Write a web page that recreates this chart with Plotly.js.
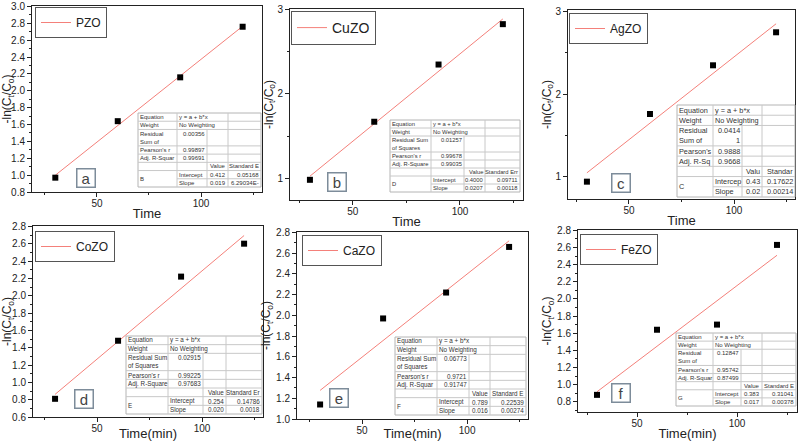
<!DOCTYPE html>
<html>
<head>
<meta charset="utf-8">
<script src="https://cdn.plot.ly/plotly-3.0.1.min.js"></script>
<style>
html, body { margin: 0; padding: 0; background: #fff; }
#chart { width: 800px; height: 441px; }
</style>
</head>
<body>
<div id="chart"></div>
<script>
// measured points, -ln(Ct/Co) against time
var times = [30, 60, 90, 120];
var pzoValues = [0.97, 1.64, 2.16, 2.76];
var cuzoValues = [0.98, 1.67, 2.35, 2.83];
var agzoValues = [0.94, 1.76, 2.35, 2.75];
var cozoValues = [0.81, 1.48, 2.22, 2.60];
var cazoValues = [1.14, 1.97, 2.22, 2.66];
var fezoValues = [0.88, 1.64, 1.70, 2.63];

var sampleNames = ['PZO', 'CuZO', 'AgZO', 'CoZO', 'CaZO', 'FeZO'];
var sampleValues = [pzoValues, cuzoValues, agzoValues, cozoValues, cazoValues, fezoValues];
var panelLetters = ['a', 'b', 'c', 'd', 'e', 'f'];
var xTitles = ['Time', 'Time', 'Time', 'Time(min)', 'Time(min)', 'Time(min)'];
var yTitle = '-ln(C<sub>t</sub>/C<sub>o</sub>)';

// fit report text, as printed in the Origin tables
var fitLetters = ['B', 'D', 'C', 'E', 'F', 'G'];
var residualLabels = [['Residual', 'Sum of'], ['Residual Sum', 'of Squares'], ['Residual', 'Sum of'], ['Residual Sum', 'of Squares'], ['Residual Sum', 'of Squares'], ['Residual', 'Sum of']];
var residualValues = [['0.00356'], ['0.01257'], ['0.0414', '1'], ['0.02915'], ['0.06773'], ['0.12847']];
var pearsonLabels = ["Pearson's r", "Pearson's r", "Pearson's", "Pearson's r", "Pearson's r", "Pearson's r"];
var pearsonValues = ['0.99897', '0.99678', '0.9888', '0.99225', '0.9721', '0.95742'];
var adjLabels = ['Adj. R-Squar', 'Adj. R-Square', 'Adj. R-Sq', 'Adj. R-Square', 'Adj. R-Squar', 'Adj. R-Squar'];
var adjValues = ['0.99691', '0.99035', '0.9668', '0.97683', '0.91747', '0.87499'];
var valueHeaders = ['Value', 'Value', 'Valu', 'Value', 'Value', 'Value'];
var errorHeaders = ['Standard E', 'Standard Err', 'Standar', 'Standard Er', 'Standard E', 'Standard E'];
var interceptLabels = ['Intercept', 'Intercept', 'Intercep', 'Intercept', 'Intercept', 'Intercept'];
var interceptValues = ['0.412', '0.4000', '0.43', '0.254', '0.789', '0.383'];
var interceptErrors = ['0.05168', '0.09711', '0.17622', '0.14786', '0.22539', '0.31041'];
var slopeValues = ['0.019', '0.0207', '0.02', '0.020', '0.016', '0.017'];
var slopeErrors = ['6.29034E-', '0.00118', '0.00214', '0.0018', '0.00274', '0.00378'];

// layout, in page pixels [left, top, right, bottom]
var panelBoxes = [[32, 6, 262, 192], [290, 9, 523, 200], [568, 10, 795, 199],
                  [33, 226, 263, 417], [297, 232, 528, 419], [578, 230, 797, 412]];
var xRanges = [[18.8, 129.3], [20.7, 129.4], [21, 129], [19.5, 129], [19, 129], [20.5, 130]];
var yRanges = [[0.8, 3.006], [0.74, 3.01], [0.73, 3.02], [0.6, 2.804], [1.0, 2.804], [0.68, 2.804]];
var yTickSteps = [0.2, 1, 1, 0.2, 0.2, 0.2];
var yTitleStandoffs = [2, 0, 1, 2, 2, 2];
var tableBoxes = [[138, 113, 261, 187], [390, 120, 520, 192], [677, 105, 795, 197],
                  [126, 336, 262, 414], [395, 337, 526, 415], [676, 333, 796, 406]];
var tableCols = [[177, 207, 228], [431, 464, 485], [713, 742, 762],
                 [168, 203, 226], [437, 469, 490], [713, 741, 762]];
var tableFontSizes = [6, 5.8, 7.3, 6.3, 6.3, 6];
var legendCorners = [[35, 7], [291, 11], [569, 13], [35, 231], [302, 235], [580, 234]];
var legendFontSizes = [12, 14, 12, 12, 12, 12];
var letterCenters = [[86, 178], [337, 182], [621, 183], [84, 399], [339, 398], [621, 393]];

var fontFamily = 'Liberation Sans, Arial, sans-serif';
var fitColor = '#f4807a';

function px(x) { return x / 800; }
function py(y) { return 1 - y / 441; }

function linearFit(x, y)
{
    var n = x.length;
    var meanX = x.reduce((s, v) => s + v, 0) / n;
    var meanY = y.reduce((s, v) => s + v, 0) / n;
    var sxy = 0, sxx = 0;
    for (var i = 0; i < n; i++)
    {
        sxy += (x[i] - meanX) * (y[i] - meanY);
        sxx += (x[i] - meanX) * (x[i] - meanX);
    }
    var m = sxy / sxx;
    var b = meanY - m * meanX;
    return x.map(v => b + m * v);
}

function addFitTable(i, shapes, annotations)
{
    var box = tableBoxes[i], cols = tableCols[i], size = tableFontSizes[i];
    var l = box[0], t = box[1], r = box[2], b = box[3];
    var unit = (b - t) / 9;
    var rowTops = [0, 1, 2, 4, 5, 6, 7, 8, 9].map(k => t + k * unit);

    function seg(x0, y0, x1, y1)
    {
        shapes.push({ type: 'line', xref: 'paper', yref: 'paper',
            x0: px(x0), y0: py(y0), x1: px(x1), y1: py(y1),
            line: { color: '#c8c8c8', width: 1 } });
    }
    function text(str, x, y, anchor)
    {
        annotations.push({ xref: 'paper', yref: 'paper', x: px(x), y: py(y), text: str,
            showarrow: false, xanchor: anchor, yanchor: 'middle', borderpad: 0,
            font: { size: size, color: '#333', family: fontFamily } });
    }
    function mid(k) { return (rowTops[k] + rowTops[k + 1]) / 2; }

    shapes.push({ type: 'rect', xref: 'paper', yref: 'paper',
        x0: px(l), y0: py(t), x1: px(r), y1: py(b),
        fillcolor: '#ffffff', line: { color: '#b4b4b4', width: 1 } });
    for (var k = 1; k < 8; k++)
        seg(k == 7 ? cols[0] : l, rowTops[k], r, rowTops[k]);
    seg(cols[0], t, cols[0], b);
    seg(cols[1], rowTops[2], cols[1], b);
    seg(cols[2], t, cols[2], b);

    text('Equation', l + 1, mid(0), 'left');
    text('y = a + b*x', cols[0] + 1, mid(0), 'left');
    text('Weight', l + 1, mid(1), 'left');
    text('No Weighting', cols[0] + 1, mid(1), 'left');
    text(residualLabels[i][0], l + 1, rowTops[2] + unit * 0.5, 'left');
    text(residualLabels[i][1], l + 1, rowTops[2] + unit * 1.5, 'left');
    residualValues[i].forEach((v, j) => text(v, cols[1] - 1, rowTops[2] + unit * (0.5 + j), 'right'));
    text(pearsonLabels[i], l + 1, mid(3), 'left');
    text(pearsonValues[i], cols[1] - 1, mid(3), 'right');
    text(adjLabels[i], l + 1, mid(4), 'left');
    text(adjValues[i], cols[1] - 1, mid(4), 'right');
    text(valueHeaders[i], cols[2] - 1, mid(5), 'right');
    text(errorHeaders[i], r - 1, mid(5), 'right');
    text(fitLetters[i], l + 1, rowTops[7], 'left');
    text(interceptLabels[i], cols[0] + 1, mid(6), 'left');
    text(interceptValues[i], cols[2] - 1, mid(6), 'right');
    text(interceptErrors[i], r - 1, mid(6), 'right');
    text('Slope', cols[0] + 1, mid(7), 'left');
    text(slopeValues[i], cols[2] - 1, mid(7), 'right');
    text(slopeErrors[i], r - 1, mid(7), 'right');
}

var plotData = [];
var shapes = [];
var annotations = [];
var layout = {
    width: 800, height: 441,
    margin: { l: 0, r: 0, t: 0, b: 0 },
    paper_bgcolor: '#ffffff', plot_bgcolor: '#ffffff',
    font: { family: fontFamily, color: '#222' },
    showlegend: true
};

for (var i = 0; i < 6; i++)
{
    var suffix = i == 0 ? '' : String(i + 1);
    var box = panelBoxes[i];
    var legendName = 'legend' + suffix;

    plotData.push({
        x: times, y: linearFit(times, sampleValues[i]),
        mode: 'lines', type: 'scatter', name: sampleNames[i],
        xaxis: 'x' + suffix, yaxis: 'y' + suffix, legend: legendName,
        line: { color: fitColor, width: 1 }, hoverinfo: 'skip'
    });
    plotData.push({
        x: times, y: sampleValues[i],
        mode: 'markers', type: 'scatter', name: sampleNames[i] + ' data',
        xaxis: 'x' + suffix, yaxis: 'y' + suffix, showlegend: false,
        marker: { symbol: 'square', size: 6, color: '#000' }
    });

    layout['xaxis' + suffix] = {
        domain: [px(box[0]), px(box[2])], anchor: 'y' + suffix,
        range: xRanges[i], tick0: 0, dtick: 50,
        ticks: 'outside', ticklen: 4, tickwidth: 1, tickcolor: '#222',
        minor: { ticks: 'outside', ticklen: 2, dtick: 25, tick0: 0, tickcolor: '#222' },
        showline: true, linecolor: '#222', linewidth: 1, mirror: true,
        showgrid: false, zeroline: false,
        tickfont: { size: 10, color: '#222' }, ticklabelstandoff: -2, ticklabeloverflow: 'allow',
        title: { text: xTitles[i], font: { size: 13, color: '#222' }, standoff: 0 }
    };
    layout['yaxis' + suffix] = {
        domain: [py(box[3]), py(box[1])], anchor: 'x' + suffix,
        range: yRanges[i], tick0: 0, dtick: yTickSteps[i],
        tickformat: yTickSteps[i] < 1 ? '.1f' : 'd',
        ticks: 'outside', ticklen: 4, tickwidth: 1, tickcolor: '#222',
        minor: { ticks: 'outside', ticklen: 2, dtick: yTickSteps[i] / 2, tick0: 0, tickcolor: '#222' },
        showline: true, linecolor: '#222', linewidth: 1, mirror: true,
        showgrid: false, zeroline: false,
        tickfont: { size: 10, color: '#222' }, ticklabeloverflow: 'allow',
        title: { text: yTitle, font: { size: 12, color: '#222' }, standoff: yTitleStandoffs[i] }
    };
    layout[legendName] = {
        x: px(legendCorners[i][0]), y: py(legendCorners[i][1]),
        xanchor: 'left', yanchor: 'top',
        bgcolor: '#ffffff', bordercolor: '#555', borderwidth: 1,
        font: { size: legendFontSizes[i], color: '#222' },
        itemwidth: 30, tracegroupgap: 0
    };

    addFitTable(i, shapes, annotations);

    annotations.push({
        xref: 'paper', yref: 'paper',
        x: px(letterCenters[i][0]), y: py(letterCenters[i][1]),
        text: panelLetters[i], showarrow: false,
        xanchor: 'center', yanchor: 'middle',
        width: 15, height: 15, borderpad: 1,
        bordercolor: '#7d8c9a', borderwidth: 1.5, bgcolor: '#ffffff',
        font: { size: 15, color: '#444', family: fontFamily }
    });
}

layout.shapes = shapes;
layout.annotations = annotations;

Plotly.newPlot('chart', plotData, layout, { staticPlot: true, displayModeBar: false }).then(function(gd)
{
    // the top label of panel a sits on the page edge; make sure it is not left hidden
    gd.querySelectorAll('.subplot.xy .yaxislayer-above .ytick').forEach(function(tick)
    {
        var label = tick.querySelector('text');
        if (label && label.textContent == '3.0')
        {
            tick.style.display = '';
            tick.style.opacity = 1;
            label.style.display = '';
            label.style.opacity = 1;
        }
    });
});
</script>
</body>
</html>
